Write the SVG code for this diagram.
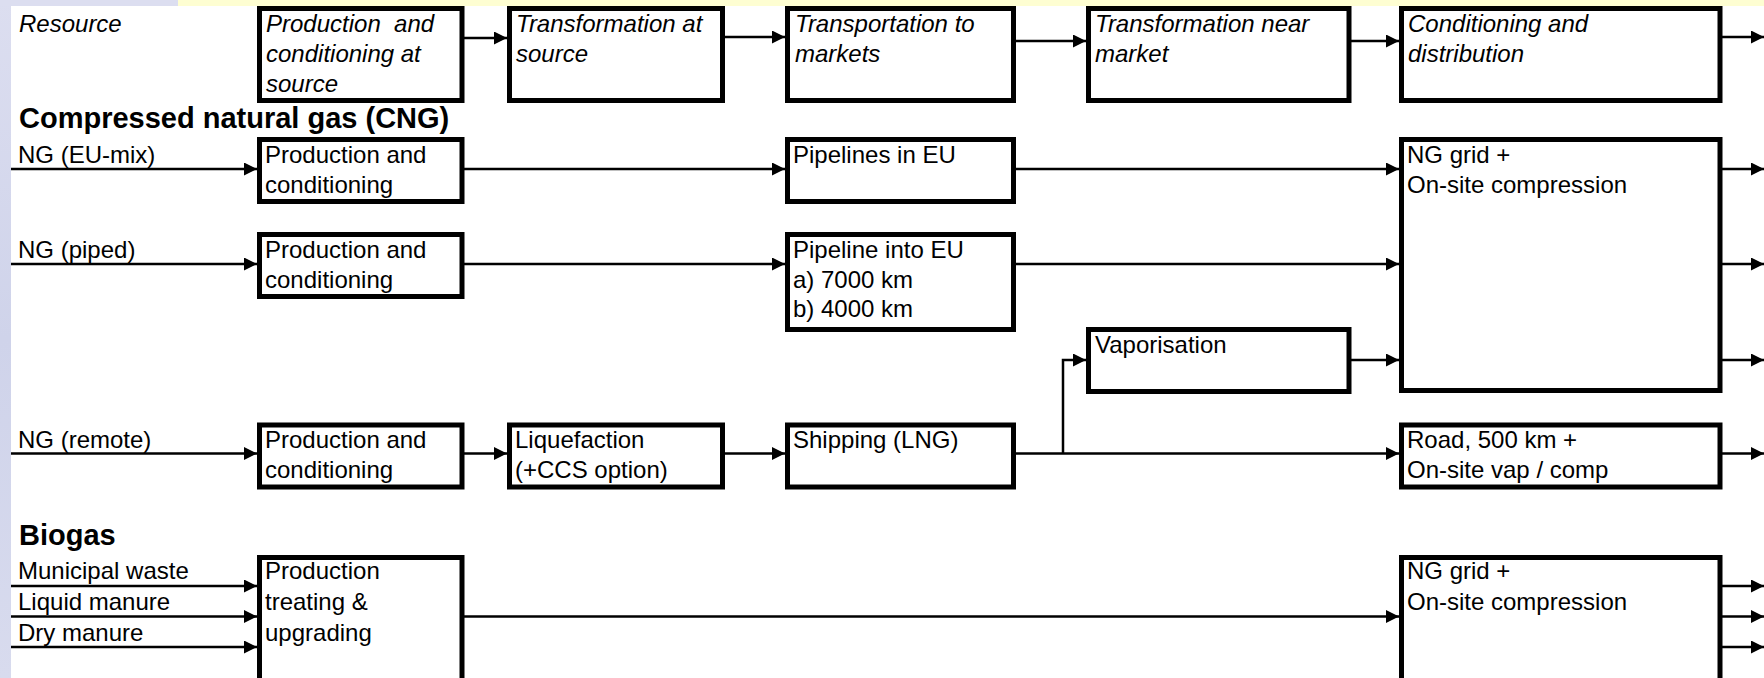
<svg xmlns="http://www.w3.org/2000/svg" width="1764" height="678" viewBox="0 0 1764 678">
<style>
.box{fill:#ffffff;stroke:#000000;stroke-width:5}
.ln{fill:none;stroke:#000000;stroke-width:2.5}
.t{font-family:"Liberation Sans",Arial,sans-serif;font-size:24px;fill:#000000}
.i{font-style:italic}
.h{font-family:"Liberation Sans",Arial,sans-serif;font-size:29px;font-weight:bold;fill:#000000}
</style>
<defs>
<marker id="ah" markerUnits="userSpaceOnUse" markerWidth="14" markerHeight="14" refX="13" refY="6.5" orient="auto">
<path d="M0,0 L13,6.5 L0,13 z" fill="#000000"/>
</marker>
<linearGradient id="strip" x1="0" y1="0" x2="0" y2="1">
<stop offset="0" stop-color="#dcdef0"/>
<stop offset="0.5" stop-color="#cfd3ea"/>
<stop offset="1" stop-color="#d8dbee"/>
</linearGradient>
</defs>
<rect x="0" y="0" width="1764" height="678" fill="#ffffff"/>
<rect x="0" y="0" width="11" height="678" fill="url(#strip)"/>
<rect x="0" y="0" width="178" height="6" fill="#dcdef0"/>
<rect x="178" y="0" width="1586" height="6" fill="#fefed2"/>

<g id="connectors">
<line class="ln" x1="464" y1="38" x2="507" y2="38" marker-end="url(#ah)"/>
<line class="ln" x1="725" y1="37" x2="785" y2="37" marker-end="url(#ah)"/>
<line class="ln" x1="1016" y1="41" x2="1086" y2="41" marker-end="url(#ah)"/>
<line class="ln" x1="1351" y1="41" x2="1399" y2="41" marker-end="url(#ah)"/>
<line class="ln" x1="1722" y1="37" x2="1764" y2="37" marker-end="url(#ah)"/>

<line class="ln" x1="11" y1="169" x2="257" y2="169" marker-end="url(#ah)"/>
<line class="ln" x1="464" y1="169" x2="785" y2="169" marker-end="url(#ah)"/>
<line class="ln" x1="1016" y1="169" x2="1399" y2="169" marker-end="url(#ah)"/>
<line class="ln" x1="1722" y1="169" x2="1764" y2="169" marker-end="url(#ah)"/>

<line class="ln" x1="11" y1="264" x2="257" y2="264" marker-end="url(#ah)"/>
<line class="ln" x1="464" y1="264" x2="785" y2="264" marker-end="url(#ah)"/>
<line class="ln" x1="1016" y1="264" x2="1399" y2="264" marker-end="url(#ah)"/>
<line class="ln" x1="1722" y1="264" x2="1764" y2="264" marker-end="url(#ah)"/>

<polyline class="ln" points="1063,453.5 1063,360 1086,360" marker-end="url(#ah)"/>
<line class="ln" x1="1351" y1="360" x2="1399" y2="360" marker-end="url(#ah)"/>
<line class="ln" x1="1722" y1="360" x2="1764" y2="360" marker-end="url(#ah)"/>

<line class="ln" x1="11" y1="453.5" x2="257" y2="453.5" marker-end="url(#ah)"/>
<line class="ln" x1="464" y1="453.5" x2="507" y2="453.5" marker-end="url(#ah)"/>
<line class="ln" x1="725" y1="453.5" x2="785" y2="453.5" marker-end="url(#ah)"/>
<line class="ln" x1="1016" y1="453.5" x2="1399" y2="453.5" marker-end="url(#ah)"/>
<line class="ln" x1="1722" y1="453.5" x2="1764" y2="453.5" marker-end="url(#ah)"/>

<line class="ln" x1="11" y1="586" x2="257" y2="586" marker-end="url(#ah)"/>
<line class="ln" x1="11" y1="616.5" x2="257" y2="616.5" marker-end="url(#ah)"/>
<line class="ln" x1="11" y1="647" x2="257" y2="647" marker-end="url(#ah)"/>
<line class="ln" x1="464" y1="616.5" x2="1399" y2="616.5" marker-end="url(#ah)"/>
<line class="ln" x1="1722" y1="586" x2="1764" y2="586" marker-end="url(#ah)"/>
<line class="ln" x1="1722" y1="616.5" x2="1764" y2="616.5" marker-end="url(#ah)"/>
<line class="ln" x1="1722" y1="647" x2="1764" y2="647" marker-end="url(#ah)"/>
</g>

<g id="labels">
<text class="t i" x="19" y="32">Resource</text>
<text class="h" x="19" y="128">Compressed natural gas (CNG)</text>
<text class="t" x="18" y="163">NG (EU-mix)</text>
<text class="t" x="18" y="258">NG (piped)</text>
<text class="t" x="18" y="448">NG (remote)</text>
<text class="h" x="19" y="545">Biogas</text>
<text class="t" x="18" y="579">Municipal waste</text>
<text class="t" x="18" y="610">Liquid manure</text>
<text class="t" x="18" y="641">Dry manure</text>
</g>

<g id="h1"><rect class="box" x="259.5" y="8.5" width="202.5" height="92"/>
<text class="t i" x="266" y="32" xml:space="preserve">Production  and</text><text class="t i" x="266" y="62">conditioning at</text><text class="t i" x="266" y="92">source</text></g>
<g id="h2"><rect class="box" x="509.5" y="8.5" width="213" height="92"/>
<text class="t i" x="516" y="32">Transformation at</text><text class="t i" x="516" y="62">source</text></g>
<g id="h3"><rect class="box" x="787.5" y="8.5" width="226" height="92"/>
<text class="t i" x="795" y="32">Transportation to</text><text class="t i" x="795" y="62">markets</text></g>
<g id="h4"><rect class="box" x="1088.5" y="8.5" width="260.5" height="92"/>
<text class="t i" x="1095" y="32">Transformation near</text><text class="t i" x="1095" y="62">market</text></g>
<g id="h5"><rect class="box" x="1401.5" y="8.5" width="318.5" height="92"/>
<text class="t i" x="1408" y="32">Conditioning and</text><text class="t i" x="1408" y="62">distribution</text></g>

<g id="prod1"><rect class="box" x="259.5" y="139.5" width="202.5" height="62"/>
<text class="t" x="265" y="163">Production and</text><text class="t" x="265" y="192.5">conditioning</text></g>
<g id="pipe1"><rect class="box" x="787.5" y="139.5" width="226" height="62"/>
<text class="t" x="793" y="163">Pipelines in EU</text></g>
<g id="grid1"><rect class="box" x="1401.5" y="139.5" width="318.5" height="251"/>
<text class="t" x="1407" y="163">NG grid +</text><text class="t" x="1407" y="192.5">On-site compression</text></g>

<g id="prod2"><rect class="box" x="259.5" y="234.5" width="202.5" height="62"/>
<text class="t" x="265" y="258">Production and</text><text class="t" x="265" y="287.5">conditioning</text></g>
<g id="pipe2"><rect class="box" x="787.5" y="234.5" width="226" height="95"/>
<text class="t" x="793" y="258">Pipeline into EU</text><text class="t" x="793" y="287.5">a) 7000 km</text><text class="t" x="793" y="317">b) 4000 km</text></g>

<g id="vap"><rect class="box" x="1088.5" y="329.5" width="260.5" height="62"/>
<text class="t" x="1095" y="353">Vaporisation</text></g>

<g id="prod3"><rect class="box" x="259.5" y="425" width="202.5" height="62"/>
<text class="t" x="265" y="448">Production and</text><text class="t" x="265" y="477.5">conditioning</text></g>
<g id="liq"><rect class="box" x="509.5" y="425" width="213" height="62"/>
<text class="t" x="515" y="448">Liquefaction</text><text class="t" x="515" y="477.5">(+CCS option)</text></g>
<g id="ship"><rect class="box" x="787.5" y="425" width="226" height="62"/>
<text class="t" x="793" y="448">Shipping (LNG)</text></g>
<g id="road"><rect class="box" x="1401.5" y="425" width="318.5" height="62"/>
<text class="t" x="1407" y="448">Road, 500 km +</text><text class="t" x="1407" y="477.5">On-site vap / comp</text></g>

<g id="bio"><rect class="box" x="259.5" y="557.5" width="202.5" height="140"/>
<text class="t" x="265" y="579">Production</text><text class="t" x="265" y="610">treating &amp;</text><text class="t" x="265" y="641">upgrading</text></g>
<g id="grid2"><rect class="box" x="1401.5" y="557.5" width="318.5" height="140"/>
<text class="t" x="1407" y="579">NG grid +</text><text class="t" x="1407" y="610">On-site compression</text></g>
</svg>
